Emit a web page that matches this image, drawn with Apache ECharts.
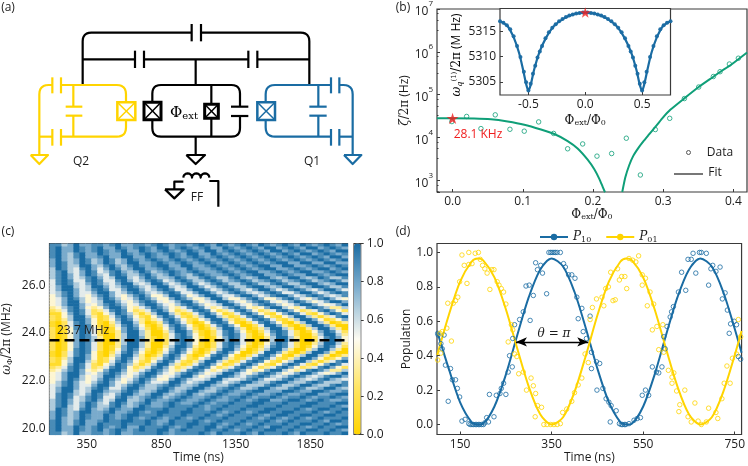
<!DOCTYPE html>
<html><head><meta charset="utf-8">
<style>html,body{margin:0;padding:0;background:#fff}#c{width:748px;height:466px}</style>
<script src="https://cdn.jsdelivr.net/npm/echarts@6/dist/echarts.min.js"></script>
</head><body><div id="c"></div>
<script>
// ---- data ----
const xTicksB=[0,0.1,0.2,0.3,0.4], xTicksInset=[-0.5,0,0.5], yTicksInset=[5305,5310,5315];
const xTicksC=[350,850,1350,1850], yTicksC=[20,22,24,26];
const xTicksD=[150,350,550,750], yTicksD=[0,0.2,0.4,0.6,0.8,1];
const barTicks=[0,0.2,0.4,0.6,0.8,1];
// (b) zeta/2pi
const fitLeft=[[-0.0223,28100],[0,28100],[0.0309,27800],[0.0546,26600],[0.0784,23600],[0.1021,19900],[0.1259,15400],[0.1449,12100],[0.1639,8300],[0.1781,5570],[0.1924,3050],[0.2019,1820],[0.209,1090],[0.2138,710],[0.2171,530]];
const fitRight=[[0.2417,537],[0.246,1170],[0.2517,2290],[0.2574,3740],[0.2645,5670],[0.2717,8130],[0.2802,12000],[0.2887,17700],[0.2987,28100],[0.3101,44400],[0.3292,80000],[0.3506,151000],[0.372,266000],[0.3815,344000],[0.3957,486000],[0.4195,966000]];
const zetaData=[[-0.001,23600],[0.02,31100],[0.0404,16200],[0.0608,33900],[0.0817,15600],[0.1021,14100],[0.1226,23200],[0.1439,12500],[0.1639,5480],[0.1853,7100],[0.2057,3690],[0.2266,4240],[0.2475,9660],[0.2675,1340],[0.2888,15400],[0.3093,28100],[0.3302,81300],[0.3506,151000],[0.3715,266000],[0.381,344000],[0.3943,520000],[0.4071,710000]];
const zetaStar=[[0,28100]];
// (b) inset: the curve and markers were read on the left half and mirrored, as the picture is symmetric about 0
const insetCurve=[[-0.75,5317.0],[-0.684,5316.05],[-0.626,5313.6],[-0.582,5310.7],[-0.547,5307.4],[-0.518,5304.4],[-0.5,5303.3],[-0.48,5304.4],[-0.45,5307.4],[-0.406,5310.7],[-0.348,5313.6],[-0.275,5316.05],[-0.187,5317.55],[-0.099,5318.4],[0,5318.7],[0.099,5318.4],[0.187,5317.55],[0.275,5316.05],[0.348,5313.6],[0.406,5310.7],[0.45,5307.4],[0.48,5304.4],[0.5,5303.3],[0.518,5304.4],[0.547,5307.4],[0.582,5310.7],[0.626,5313.6],[0.684,5316.05],[0.75,5317.0]];
const insetData=[[-0.75,5317],[-0.72,5316.7],[-0.69,5316.2],[-0.66,5315.4],[-0.63,5314],[-0.6,5312.1],[-0.57,5309.9],[-0.54,5307],[-0.52,5304.9],[-0.5,5303.3],[-0.48,5304.6],[-0.46,5306.6],[-0.44,5308.2],[-0.42,5309.8],[-0.4,5311],[-0.38,5312.1],[-0.35,5313.6],[-0.32,5314.8],[-0.29,5315.7],[-0.26,5316.4],[-0.23,5317],[-0.2,5317.4],[-0.17,5317.8],[-0.14,5318.1],[-0.11,5318.3],[-0.08,5318.5],[-0.05,5318.6],[-0.02,5318.7],[0.02,5318.7],[0.05,5318.6],[0.08,5318.5],[0.11,5318.3],[0.14,5318.1],[0.17,5317.8],[0.2,5317.4],[0.23,5317],[0.26,5316.4],[0.29,5315.7],[0.32,5314.8],[0.35,5313.6],[0.38,5312.1],[0.4,5311],[0.42,5309.8],[0.44,5308.2],[0.46,5306.6],[0.48,5304.6],[0.5,5303.3],[0.52,5304.9],[0.54,5307],[0.57,5309.9],[0.6,5312.1],[0.63,5314],[0.66,5315.4],[0.69,5316.2],[0.72,5316.7],[0.75,5317]];
const insetStar=[[0,5318.7]];
// (c) NOT a cell-by-cell reading. Digit = population x 9, on a coarse 50 x 64 grid. The band positions were read from
// the picture and the cells between them were worked out by hand from a sinusoidal chevron shape tuned to those
// positions. The lower half is the upper half mirrored, with the low digits raised by eye; the reference's noise is absent.
const heatTimes=[120,160,200,240,280,320,360,400,440,480,520,560,600,640,680,720,760,800,840,880,920,960,1000,1040,1080,1120,1160,1200,1240,1280,1320,1360,1400,1440,1480,1520,1560,1600,1640,1680,1720,1760,1800,1840,1880,1920,1960,2000,2040,2080];
const heatFreqs=[27.6875,27.5625,27.4375,27.3125,27.1875,27.0625,26.9375,26.8125,26.6875,26.5625,26.4375,26.3125,26.1875,26.0625,25.9375,25.8125,25.6875,25.5625,25.4375,25.3125,25.1875,25.0625,24.9375,24.8125,24.6875,24.5625,24.4375,24.3125,24.1875,24.0625,23.9375,23.8125,23.6875,23.5625,23.4375,23.3125,23.1875,23.0625,22.9375,22.8125,22.6875,22.5625,22.4375,22.3125,22.1875,22.0625,21.9375,21.8125,21.6875,21.5625,21.4375,21.3125,21.1875,21.0625,20.9375,20.8125,20.6875,20.5625,20.4375,20.3125,20.1875,20.0625,19.9375,19.8125];
const heatRows=[
"8867977887 8977887898 7887898798 7898798789 8798789879",
"8977987897 7987898799 7898789779 8789879978 9879978987",
"8977987898 7897798789 8789879978 9878987997 8987898799",
"8976897798 7798789878 9879977987 8987898789 8799789878",
"8976897789 7799779877 9878987898 7898789878 9878987997",
"7976798679 8679878987 8987898789 8789878987 8987898789",
"7986798679 8679977898 7898789878 9878987899 7799779977",
"7986699768 9768987899 7799778987 8987899779 9778987898",
"6986589757 9867997789 8779877898 7898789977 8987899789",
"6896579856 8976798678 9878987789 8789977898 7899778987",
"6897579865 8986689767 9876898778 9878997789 8779987899",
"6897568975 6996579866 7986689866 8976799767 9976798668",
"5898558985 5897568985 6898668986 7898678986 7898678986",
"5898657986 5799656997 5689756898 6689866898 6689976799",
"5799656997 5689865799 6569975689 8668997679 9767998668",
"5799756898 5579975689 8557997568 9865799756 8986579975",
"5689755799 7568986568 9855799756 8986568985 5799756898",
"4689754689 7546897446 9974579975 5799756899 7568986568",
"4579864579 8645798644 7986446996 4468974468 9754689754",
"4579964569 9754689854 5799645699 7546898545 7986457997",
"4579975468 9864579975 4689864569 9754689864 5799754579",
"3468974347 9974357986 4358985346 8974347996 4358986336",
"2358985235 8984235897 4235898423 5897423589 7423589742",
"1147985214 6986313699 6312589741 2589742147 9852147985",
"2146996312 5897421479 8521369963 1258984214 6996313589",
"2136997412 4798531358 9742146996 3125898521 3699741247",
"1025897410 3699630137 9852014898 4102589741 0369963013",
"1025898410 2589741025 8974102589 7400259973 1026997300",
"2014898520 1479852014 7985201369 9630136996 3003699630",
"2014798520 1379963003 6997310258 9741025898 5201479852",
"2014798520 0369963002 5897410258 9852014798 5200369963",
"2014798630 0369973102 5898420147 9852003699 6300258974",
"2014798630 0369973102 5898420147 9852003699 6300258974",
"2014798520 0369963002 5897410258 9852014798 5200369963",
"2014798520 1379963003 6997310258 9741025898 5201479852",
"2014898520 1479852014 7985201369 9630136996 3003699630",
"1025898410 2589741025 8974102589 7400259973 1026997300",
"1025897410 3699630137 9852014898 4102589741 0369963013",
"2136997412 4798531358 9742146996 3125898521 3699741247",
"2146996312 5897421479 8521369963 1258984214 6996313589",
"1147985214 6986313699 6312589741 2589742147 9852147985",
"2358985235 8984235897 4235898423 5897423589 7423589742",
"3468974347 9974357986 4358985346 8974347996 4358986336",
"4579975468 9864579975 4689864569 9754689864 5799754579",
"4579964569 9754689854 5799645699 8657898656 8986568997",
"4579864579 8645798644 7986556996 5568975568 9765689765",
"4689754689 7546897556 9975679975 6799766899 7668986668",
"5689755799 7568986678 9866799766 8986668986 6799766898",
"5799756898 5579976689 8667997678 9866799766 8986679976",
"5799656997 6689866799 7679976689 8778997779 9877998778",
"5898657986 5799767997 6789767898 7789877898 7789977899",
"5898568985 5897678986 7898778987 8898788987 8898788987",
"6897568975 6996679877 8987789877 8987899778 9987898778",
"6897579865 8986789778 9877898788 9888998889 8889988899",
"6896579866 8976798778 9888987889 8889988898 8899888987",
"6986589767 9877998889 8889887898 8898889988 8987899889",
"7986799778 9778987899 8899888987 8987899889 9888987898",
"7986798779 8789988898 8898889878 9888987899 8899889988",
"7976798779 8789878987 8987898889 8889878987 8987898889",
"8976897789 8899889877 9888987898 8898889878 9888987998",
"8976897798 8898889878 9889988987 8987898889 8899889878",
"8977987898 7897798889 8789889978 9888987998 8987898899",
"8977987897 8987898899 7898889889 8789889988 9889988987",
"8867977887 8977888898 7888898798 8898798889 8798889889"];
const resonanceLine=[[100,23.7],[2100,23.7]];
// (d) measurements are read from the picture. The fit lines are hand-computed samples of a sinusoid whose
// period, amplitude and crossings were read from the picture (they are fits in the reference too).
const p10Fit=[[100,0.54],[125,0.326],[150,0.129],[175,0.014],[188,0],[200,0.005],[225,0.105],[250,0.29],[275,0.52],[300,0.74],[325,0.9],[350,0.965],[375,0.918],[400,0.77],[425,0.557],[450,0.325],[475,0.13],[500,0.014],[513,0],[525,0.005],[550,0.105],[575,0.29],[600,0.52],[625,0.74],[650,0.9],[675,0.965],[700,0.918],[725,0.77],[750,0.557],[765,0.417]];
const p01Fit=[[100,0.404],[125,0.634],[150,0.831],[175,0.946],[188,0.965],[200,0.955],[225,0.855],[250,0.67],[275,0.44],[300,0.22],[325,0.06],[350,0],[375,0.042],[400,0.19],[425,0.403],[450,0.635],[475,0.83],[500,0.946],[513,0.965],[525,0.955],[550,0.855],[575,0.67],[600,0.44],[625,0.22],[650,0.06],[675,0],[700,0.042],[725,0.19],[750,0.403],[765,0.543]];
const p10Data=[[101,0.53],[102,0.52],[108,0.47],[111,0.44],[115,0.52],[118,0.345],[124,0.135],[129,0.325],[133,0.26],[140,0.26],[144,0.21],[149,0.16],[154,0.02],[161,0.03],[169,0.005],[172,0],[176,0],[179,0],[183,0],[186,0],[190,0],[193,0],[197,0],[201,0],[204,0.01],[208,0.04],[212,0.015],[214,0.175],[224,0.045],[229,0.17],[237,0.18],[240,0.21],[245,0.24],[250,0.175],[255,0.305],[258,0.4],[264,0.335],[265,0.5],[269,0.58],[280,0.61],[288,0.655],[294,0.805],[301,0.81],[303,0.605],[310,0.75],[315,0.94],[319,0.9],[326,0.925],[330,0.88],[339,0.76],[344,1],[348,1],[351,1],[355,1],[358,1],[362,1],[369,1],[376,0.935],[380,0.915],[387,0.87],[394,0.87],[401,0.85],[405,0.74],[408,0.615],[416,0.675],[419,0.54],[426,0.5],[434,0.63],[437,0.42],[437,0.325],[448,0.365],[449,0.2],[455,0.355],[462,0.21],[469,0.15],[475,0.13],[478,0.015],[480,0.11],[491,0.08],[498,0.005],[502,0],[505,0],[509,0],[512,0],[519,0.005],[530,0.025],[537,0.035],[544,0.04],[548,0.17],[555,0.2],[562,0.17],[570,0.335],[579,0.305],[584,0.3],[591,0.335],[595,0.51],[598,0.44],[602,0.57],[609,0.625],[612,0.655],[616,0.685],[627,0.77],[634,0.885],[643,0.78],[648,0.96],[655,0.96],[659,0.995],[665,0.88],[673,1],[677,1],[688,0.995],[693,0.81],[698,0.905],[702,0.925],[709,0.89],[718,0.915],[723,0.73],[729,0.765],[734,0.665],[738,0.53],[741,0.585],[749,0.6],[754,0.58],[758,0.395],[763,0.38]];
const p01Data=[[101,0.375],[106,0.53],[108,0.415],[111,0.54],[121,0.56],[123,0.705],[131,0.485],[135,0.705],[140,0.72],[145,0.74],[149,0.83],[154,0.985],[159,0.925],[165,0.82],[169,0.93],[169,1],[176,0.935],[183,0.995],[190,1],[194,0.96],[199,0.925],[204,0.905],[209,0.88],[215,0.785],[219,0.9],[224,0.9],[231,0.83],[235,0.81],[240,0.79],[245,0.77],[250,0.7],[255,0.48],[262,0.58],[265,0.55],[269,0.41],[274,0.395],[278,0.295],[288,0.305],[295,0.2],[305,0.27],[310,0.225],[314,0.045],[315,0.18],[319,0.11],[328,0.1],[333,0],[340,0],[348,0],[355,0],[362,0],[369,0.005],[374,0.07],[383,0.09],[394,0.135],[400,0.185],[408,0.23],[416,0.27],[423,0.41],[430,0.36],[434,0.61],[439,0.68],[448,0.73],[460,0.74],[464,0.69],[468,0.79],[474,0.8],[479,0.885],[484,0.72],[489,0.725],[494,0.905],[498,0.84],[503,0.86],[510,0.86],[514,0.79],[519,0.965],[527,0.955],[534,0.945],[540,0.98],[548,0.87],[555,0.85],[548,0.81],[565,0.77],[559,0.69],[573,0.7],[570,0.55],[580,0.57],[593,0.58],[584,0.435],[595,0.42],[605,0.315],[613,0.275],[617,0.3],[613,0.24],[623,0.195],[628,0.075],[630,0.115],[641,0.2],[648,0.045],[655,0.015],[663,0.125],[670,0.02],[677,0],[688,0.015],[693,0.095],[709,0.07],[713,0.035],[722,0.15],[727,0.24],[733,0.34],[740,0.24],[745,0.385],[754,0.41],[758,0.61],[763,0.51]];
const arrowSpan=[[272,0.48],[430,0.48]];

// ---- styling ----
const BLUE='#1A6CA3',YEL='#FFD400',GRN='#0F9F78',RED='#F01E1E',INK='#1c1c1c',FRAME='#3a3a3a';
const SANS="'Open Sans'",SERIF="'DejaVu Serif'";
const STAR='path://M50,0 L61,35 98,35 68,57 79,91 50,70 21,91 32,57 2,35 39,35 Z';
const mathRich={i:{fontFamily:SERIF,fontStyle:'italic',fontSize:12,color:INK},
 u:{fontFamily:SERIF,fontSize:12,color:INK},
 s:{fontFamily:SERIF,fontSize:8,color:INK,verticalAlign:'bottom',padding:[5,0,0,0]},
 si:{fontFamily:SERIF,fontStyle:'italic',fontSize:8,color:INK,verticalAlign:'bottom',padding:[5,0,0,0]},
 e:{fontFamily:SERIF,fontSize:7,color:INK,verticalAlign:'top',padding:[0,0,5,0]},
 t:{fontFamily:SANS,fontSize:12,color:INK}};
const phiLabel='{u|Φ}{s|ext}{u|/Φ}{s|0}';
const fix1=v=>v.toFixed(1), plain=v=>String(v);
function axis(o){
  return Object.assign({type:'value',scale:false,splitLine:{show:false},
    axisLine:{show:false,onZero:false},nameTextStyle:{rich:mathRich,color:INK}},o,{
    axisTick:Object.assign({show:true,inside:true,length:3,lineStyle:{color:FRAME,width:1}},o.axisTick||{}),
    axisLabel:Object.assign({color:INK,fontFamily:SANS,fontSize:12,margin:4,hideOverlap:false},o.axisLabel||{})});
}
function ticks(vals,fmt,extra){return {axisTick:{customValues:vals},axisLabel:Object.assign({customValues:vals,formatter:fmt},extra||{})};}
const grid=(l,t,w,h,extra)=>Object.assign({left:l,top:t,width:w,height:h,show:true,borderColor:FRAME,borderWidth:1.2,backgroundColor:'#fff',containLabel:false},extra||{});

const expRich={b:{fontFamily:SANS,fontSize:12,color:INK,padding:[6,0,0,0]},e:{fontFamily:SANS,fontSize:8,color:INK,padding:[0,0,6,0],verticalAlign:'top'}};

const heatData=[];
heatRows.forEach((row,r)=>{const cells=row.replace(/ /g,'');for(let c=0;c<heatTimes.length;c++)heatData.push([heatTimes[c],heatFreqs[r],Number(cells[c])/9]);});

// ---- schematic (a): zoomed-picture coordinates / 3 ----
function arcPts(cx,cy,r,a0,a1,n){const o=[];for(let i=0;i<=n;i++){const a=(a0+(a1-a0)*i/n)*Math.PI/180;o.push([cx+r*Math.cos(a),cy+r*Math.sin(a)]);}return o;}
function rounded(pts,r){const o=[pts[0]];for(let i=1;i<pts.length-1;i++){const p=pts[i],a=pts[i-1],b=pts[i+1];
  const da=Math.hypot(a[0]-p[0],a[1]-p[1]),db=Math.hypot(b[0]-p[0],b[1]-p[1]);
  const s=[p[0]+(a[0]-p[0])*r/da,p[1]+(a[1]-p[1])*r/da],e=[p[0]+(b[0]-p[0])*r/db,p[1]+(b[1]-p[1])*r/db];
  for(let k=0;k<=6;k++){const t=k/6,u=1-t;o.push([u*u*s[0]+2*u*t*p[0]+t*t*e[0],u*u*s[1]+2*u*t*p[1]+t*t*e[1]]);}}
  o.push(pts[pts.length-1]);return o;}
const G=[];
function pl(pts,c,w){G.push({type:'polyline',z:5,shape:{points:pts.map(p=>[p[0]/3,p[1]/3])},style:{stroke:c,lineWidth:w||2.2,fill:null,lineCap:'butt',lineJoin:'round'}});}
function capV(x1,x2,y0,y1,c){pl([[x1,y0],[x1,y1]],c);pl([[x2,y0],[x2,y1]],c);}
function capH(y1,y2,x0,x1,c){pl([[x0,y1],[x1,y1]],c);pl([[x0,y2],[x1,y2]],c);}
function jj(x0,y0,x1,y1,c,w){G.push({type:'rect',z:6,shape:{x:x0/3,y:y0/3,width:(x1-x0)/3,height:(y1-y0)/3},style:{fill:'#fff',stroke:c,lineWidth:w}});
  pl([[x0,y0],[x1,y1]],c,1.5);pl([[x0,y1],[x1,y0]],c,1.5);G[G.length-1].z=7;G[G.length-2].z=7;}
function gnd(cx,y,c,hw){pl([[cx-hw,y],[cx+hw,y],[cx,y+27],[cx-hw,y]],c);}
// black buses
pl(rounded([[248,255],[248,98],[575,98]],26),'#000');capV(575,603,72,124,'#000');pl(rounded([[603,98],[928,98],[928,255]],26),'#000');
pl([[248,178],[405,178]],'#000');capV(405,432,152,204,'#000');pl([[432,178],[745,178]],'#000');capV(745,772,152,204,'#000');pl([[772,178],[928,178]],'#000');
pl([[587,178],[587,255]],'#000');
pl(rounded([[457,305],[457,255],[720,255],[720,320]],26),'#000');
pl(rounded([[457,360],[457,410],[720,410],[720,348]],26),'#000');
capH(320,348,693,745,'#000');pl([[634,255],[634,410]],'#000');
jj(432,307,483,359,'#000',3);jj(614,313,655,355,'#000',3);
pl([[587,410],[587,465]],'#000');gnd(587,465,'#000',28);
gnd(523,568,'#000',28);
pl([[523,568],[523,545],[550,545]],'#000');
pl(arcPts(563,533,13,180,360,10).concat(arcPts(589,533,13,180,360,10),arcPts(615,533,13,180,360,10)),'#000');
pl([[628,543],[655,543],[655,620]],'#000');
// yellow qubit
pl(rounded([[183,255],[378,255],[378,305]],28),YEL);pl(rounded([[378,362],[378,410],[183,410]],28),YEL);
capV(157,183,232,280,YEL);capV(157,183,387,437,YEL);
pl(rounded([[157,255],[118,255],[118,465]],28),YEL);pl([[118,410],[157,410]],YEL);
pl([[220,255],[220,320]],YEL);pl([[220,347],[220,410]],YEL);capH(320,347,197,247,YEL);
jj(352,307,406,360,YEL,2.5);gnd(118,465,YEL,26);
// blue qubit
pl(rounded([[993,255],[797,255],[797,305]],28),BLUE);pl(rounded([[797,362],[797,410],[993,410]],28),BLUE);
capV(993,1018,232,280,BLUE);capV(993,1018,387,437,BLUE);
pl(rounded([[1018,255],[1058,255],[1058,465]],28),BLUE);pl([[1018,410],[1058,410]],BLUE);
pl([[955,255],[955,320]],BLUE);pl([[955,347],[955,410]],BLUE);capH(320,347,928,980,BLUE);
jj(772,307,825,360,BLUE,2.5);gnd(1058,465,BLUE,26);
function txt(x,y,t,o){G.push({type:'text',z:10,x:x,y:y,style:Object.assign({text:t,fill:INK,font:"12px "+SANS,textAlign:'center',textVerticalAlign:'middle'},o||{})});}
txt(8,8,'(a)');txt(403,8,'(b)');txt(8,232,'(c)');txt(403,232,'(d)');
txt(81,162,'Q2');txt(312,162,'Q1');txt(197,198,'FF');
G.push({type:'text',z:10,x:184,y:113,style:{text:'{a|Φ}{b|ext}',textAlign:'center',textVerticalAlign:'middle',rich:{a:{fontFamily:SERIF,fontSize:15,color:'#222'},b:{fontFamily:SERIF,fontSize:10,color:'#222',verticalAlign:'bottom',padding:[6,0,0,0]}}}});
// panel annotations
txt(478,135,'28.1 KHz',{fill:RED});
txt(57,331,'23.7 MHz',{textAlign:'left'});
G.push({type:'text',z:10,x:554,y:334,style:{text:'θ = π',font:"italic 12px "+SERIF,fill:INK,textAlign:'center',textVerticalAlign:'middle'}});
// (b) legend
G.push({type:'circle',z:10,shape:{cx:688.5,cy:152.5,r:2},style:{fill:null,stroke:'#555',lineWidth:1}});
txt(720,153,'Data');
G.push({type:'line',z:10,shape:{x1:674,y1:174,x2:703,y2:174},style:{stroke:'#777',lineWidth:2}});
txt(715,173,'Fit');
// inset y title
G.push({type:'text',z:10,x:457,y:55,rotation:Math.PI/2,style:{text:'{i|ω}{si|q}{e|(1)}{u|/2π}{t| (M Hz)}',textAlign:'center',textVerticalAlign:'middle',rich:mathRich}});

const opt={animation:false,backgroundColor:'#fff',
 textStyle:{fontFamily:SANS},
 graphic:{elements:G},
 grid:[grid(437,2,310,190),grid(500,8.5,170.5,86.5,{z:3}),grid(49.5,243.5,298,191),grid(354,243.5,6.7,191,{backgroundColor:'transparent'}),grid(437,243.5,310,191)],
 xAxis:[
  axis(Object.assign({gridIndex:0,min:-0.0222,max:0.4194,name:phiLabel,nameLocation:'middle',nameGap:16},ticks(xTicksB,fix1))),
  axis(Object.assign({gridIndex:1,min:-0.75,max:0.75,name:phiLabel,nameLocation:'middle',nameGap:19,z:4},ticks(xTicksInset,fix1))),
  axis(Object.assign({gridIndex:2,min:100,max:2100,name:'Time (ns)',nameLocation:'middle',nameGap:17,nameTextStyle:{fontFamily:SANS,fontSize:12,color:INK}},ticks(xTicksC,plain))),
  axis({gridIndex:3,min:0,max:1,axisTick:{show:false},axisLabel:{show:false}}),
  axis(Object.assign({gridIndex:4,min:99.5,max:765,name:'Time (ns)',nameLocation:'middle',nameGap:17,nameTextStyle:{fontFamily:SANS,fontSize:12,color:INK}},ticks(xTicksD,plain)))],
 yAxis:[
  {type:'log',gridIndex:0,logBase:10,min:537,max:1e7,splitLine:{show:false},axisLine:{show:false,onZero:false},
   name:'{i|ζ}{u|/2π}{t| (Hz)}',nameLocation:'middle',nameGap:26,nameTextStyle:{rich:mathRich},
   axisTick:{show:true,inside:true,length:3,lineStyle:{color:FRAME}},
   minorTick:{show:true,splitNumber:4,length:1.5,lineStyle:{color:FRAME}},
   axisLabel:{showMinLabel:false,margin:4,formatter:v=>{const e=Math.log10(v);return Math.abs(e-Math.round(e))<1e-6?'{b|10}{e|'+Math.round(e)+'}':'';},rich:expRich}},
  axis(Object.assign({gridIndex:1,min:5302.4,max:5319.5,z:4},ticks(yTicksInset,plain))),
  axis(Object.assign({gridIndex:2,min:19.75,max:27.75,name:'{i|ω}{s|Φ}{u|/2π}{t| (MHz)}',nameLocation:'middle',nameGap:36},ticks(yTicksC,fix1))),
  axis({gridIndex:3,min:0,max:1,position:'right',axisTick:{customValues:barTicks,inside:false,length:3},axisLabel:{customValues:barTicks,formatter:fix1,margin:6}}),
  axis(Object.assign({gridIndex:4,min:-0.058,max:1.052,name:'Population',nameLocation:'middle',nameGap:24,nameTextStyle:{fontFamily:SANS,fontSize:12,color:INK}},ticks(yTicksD,fix1)))],
 visualMap:[{type:'continuous',seriesIndex:7,dimension:2,min:0,max:1,calculable:false,show:true,orient:'vertical',left:354,top:243.5,itemWidth:6.7,itemHeight:191,padding:0,text:['',''],textGap:0,
   inRange:{color:['#FFD400','#FFE566','#FDFBF2','#86B3D1','#1A6CA3']}}],
 legend:{data:['P10','P01'],left:534,top:226,itemWidth:28,itemHeight:8,itemGap:14,selectedMode:false,
   formatter:n=>'{i|P}{s|'+n.slice(1)+'}',textStyle:{rich:mathRich}},
 series:[
  {type:'line',name:'fit left',xAxisIndex:0,yAxisIndex:0,data:fitLeft,smooth:0.2,showSymbol:false,lineStyle:{color:GRN,width:2}},
  {type:'line',name:'fit right',xAxisIndex:0,yAxisIndex:0,data:fitRight,smooth:0.2,showSymbol:false,lineStyle:{color:GRN,width:2}},
  {type:'scatter',name:'zeta data',xAxisIndex:0,yAxisIndex:0,data:zetaData,symbolSize:4.5,itemStyle:{color:'rgba(0,0,0,0)',borderColor:GRN,borderWidth:1},z:3},
  {type:'scatter',name:'zeta star',xAxisIndex:0,yAxisIndex:0,data:zetaStar,symbol:STAR,symbolSize:12,symbolKeepAspect:true,itemStyle:{color:RED},z:5},
  {type:'line',name:'inset fit',xAxisIndex:1,yAxisIndex:1,data:insetCurve,smooth:0.3,showSymbol:false,lineStyle:{color:BLUE,width:2.2},z:6},
  {type:'scatter',name:'inset data',xAxisIndex:1,yAxisIndex:1,data:insetData,symbolSize:4,itemStyle:{color:BLUE,opacity:0.95},z:7},
  {type:'scatter',name:'inset star',xAxisIndex:1,yAxisIndex:1,data:insetStar,symbol:STAR,symbolSize:11,symbolKeepAspect:true,itemStyle:{color:RED},z:8},
  {type:'custom',name:'population map',xAxisIndex:2,yAxisIndex:2,data:heatData,dimensions:['t','f','p'],encode:{x:0,y:1},clip:true,
   renderItem:(p,api)=>{const c=api.coord([api.value(0),api.value(1)]),s=api.size([40,0.125]);
     return {type:'rect',shape:{x:c[0]-s[0]/2,y:c[1]-s[1]/2,width:s[0]+0.6,height:s[1]+0.6},style:{fill:api.visual('color')}};}},
  {type:'line',name:'resonance',xAxisIndex:2,yAxisIndex:2,data:resonanceLine,showSymbol:false,lineStyle:{color:'#000',width:2.5,type:[10,5]},z:8},
  {type:'line',name:'P10',xAxisIndex:4,yAxisIndex:4,data:p10Fit,smooth:0.3,showSymbol:false,symbol:'circle',symbolSize:5,lineStyle:{color:BLUE,width:2},itemStyle:{color:BLUE},z:4,
   markLine:{silent:true,symbol:['arrow','arrow'],symbolSize:[7,11],label:{show:false},lineStyle:{color:'#000',width:1.3,type:'solid'},data:[[{coord:arrowSpan[0]},{coord:arrowSpan[1]}]],z:9}},
  {type:'line',name:'P01',xAxisIndex:4,yAxisIndex:4,data:p01Fit,smooth:0.3,showSymbol:false,symbol:'circle',symbolSize:5,lineStyle:{color:YEL,width:2},itemStyle:{color:YEL},z:5},
  {type:'scatter',name:'P10 data',xAxisIndex:4,yAxisIndex:4,data:p10Data,symbolSize:4.5,itemStyle:{color:'rgba(0,0,0,0)',borderColor:BLUE,borderWidth:1},z:6},
  {type:'scatter',name:'P01 data',xAxisIndex:4,yAxisIndex:4,data:p01Data,symbolSize:4.5,itemStyle:{color:'rgba(0,0,0,0)',borderColor:YEL,borderWidth:1},z:6}
 ]};
const chart=echarts.init(document.getElementById('c'),null,{renderer:'canvas'});
chart.setOption(opt);
</script></body></html>
